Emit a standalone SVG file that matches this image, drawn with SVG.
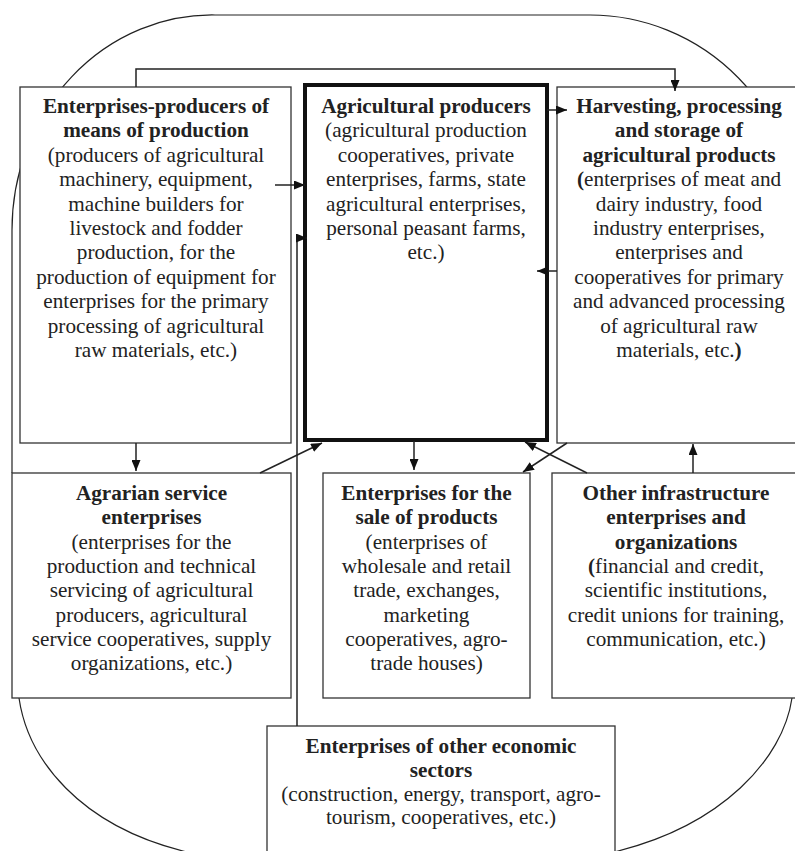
<svg xmlns="http://www.w3.org/2000/svg" width="795" height="851" viewBox="0 0 795 851">
<defs>
<style>
.box{fill:#fff;stroke:#333;stroke-width:1.3}
.main{fill:#fff;stroke:#111;stroke-width:4}
.outer{fill:none;stroke:#222;stroke-width:1.2}
.con{fill:none;stroke:#222;stroke-width:1.5}
</style>
<marker id="ah" markerUnits="userSpaceOnUse" markerWidth="11" markerHeight="9" refX="11" refY="4.5" orient="auto">
<path d="M0,0 L11,4.5 L0,9 z" fill="#111"/>
</marker>
</defs>
<rect width="795" height="851" fill="#fff"/>
<g id="outer">
<path class="outer" d="M12,473 V230 A200 215 0 0 1 215,15 H590 A210 215 0 0 1 800,230"/>
<path class="outer" d="M19,698 C28,760 80,825 183,851 L200,856"/>
<path class="outer" d="M792,698 C783,760 721,825 618,851 L600,856"/>
</g>
<g font-family="Liberation Serif, Times New Roman, serif" font-size="21.2" fill="#222" text-anchor="middle">
<g id="n-means">
<rect class="box" x="20" y="87" width="271" height="356"/>
<text x="156" y="113"><tspan font-weight="bold">Enterprises-producers of</tspan><tspan font-weight="bold" x="156" dy="24.4">means of production</tspan><tspan x="156" dy="24.4">(producers of agricultural</tspan><tspan x="156" dy="24.4">machinery, equipment,</tspan><tspan x="156" dy="24.4">machine builders for</tspan><tspan x="156" dy="24.4">livestock and fodder</tspan><tspan x="156" dy="24.4">production, for the</tspan><tspan x="156" dy="24.4">production of equipment for</tspan><tspan x="156" dy="24.4">enterprises for the primary</tspan><tspan x="156" dy="24.4">processing of agricultural</tspan><tspan x="156" dy="24.4">raw materials, etc.)</tspan></text>
</g>
<g id="n-agri">
<rect class="main" x="305" y="85" width="242" height="355"/>
<text x="426" y="113"><tspan font-weight="bold">Agricultural producers</tspan><tspan x="426" dy="24.4">(agricultural production</tspan><tspan x="426" dy="24.4">cooperatives, private</tspan><tspan x="426" dy="24.4">enterprises, farms, state</tspan><tspan x="426" dy="24.4">agricultural enterprises,</tspan><tspan x="426" dy="24.4">personal peasant farms,</tspan><tspan x="426" dy="24.4">etc.)</tspan></text>
</g>
<g id="n-harvest">
<rect class="box" x="557" y="87" width="245" height="356"/>
<text x="679" y="113"><tspan font-weight="bold">Harvesting, processing</tspan><tspan font-weight="bold" x="679" dy="24.4">and storage of</tspan><tspan font-weight="bold" x="679" dy="24.4">agricultural products</tspan><tspan x="679" dy="24.4"><tspan font-weight="bold">(</tspan>enterprises of meat and</tspan><tspan x="679" dy="24.4">dairy industry, food</tspan><tspan x="679" dy="24.4">industry enterprises,</tspan><tspan x="679" dy="24.4">enterprises and</tspan><tspan x="679" dy="24.4">cooperatives for primary</tspan><tspan x="679" dy="24.4">and advanced processing</tspan><tspan x="679" dy="24.4">of agricultural raw</tspan><tspan x="679" dy="24.4">materials, etc.<tspan font-weight="bold">)</tspan></tspan></text>
</g>
<g id="n-agrarian">
<rect class="box" x="12" y="473" width="279" height="225"/>
<text x="151.5" y="500"><tspan font-weight="bold">Agrarian service</tspan><tspan font-weight="bold" x="151.5" dy="24.3">enterprises</tspan><tspan x="151.5" dy="24.3">(enterprises for the</tspan><tspan x="151.5" dy="24.3">production and technical</tspan><tspan x="151.5" dy="24.3">servicing of agricultural</tspan><tspan x="151.5" dy="24.3">producers, agricultural</tspan><tspan x="151.5" dy="24.3">service cooperatives, supply</tspan><tspan x="151.5" dy="24.3">organizations, etc.)</tspan></text>
</g>
<g id="n-sale">
<rect class="box" x="323" y="473" width="207" height="225"/>
<text x="426.5" y="500"><tspan font-weight="bold">Enterprises for the</tspan><tspan font-weight="bold" x="426.5" dy="24.3">sale of products</tspan><tspan x="426.5" dy="24.3">(enterprises of</tspan><tspan x="426.5" dy="24.3">wholesale and retail</tspan><tspan x="426.5" dy="24.3">trade, exchanges,</tspan><tspan x="426.5" dy="24.3">marketing</tspan><tspan x="426.5" dy="24.3">cooperatives, agro-</tspan><tspan x="426.5" dy="24.3">trade houses)</tspan></text>
</g>
<g id="n-infra">
<rect class="box" x="552" y="473" width="250" height="225"/>
<text x="676" y="500"><tspan font-weight="bold">Other infrastructure</tspan><tspan font-weight="bold" x="676" dy="24.3">enterprises and</tspan><tspan font-weight="bold" x="676" dy="24.3">organizations</tspan><tspan x="676" dy="24.3"><tspan font-weight="bold">(</tspan>financial and credit,</tspan><tspan x="676" dy="24.3">scientific institutions,</tspan><tspan x="676" dy="24.3">credit unions for training,</tspan><tspan x="676" dy="24.3">communication, etc.)</tspan></text>
</g>
<g id="n-other">
<rect class="box" x="267" y="726" width="348" height="140"/>
<text x="441" y="753"><tspan font-weight="bold">Enterprises of other economic</tspan><tspan font-weight="bold" x="441" dy="23.8">sectors</tspan><tspan x="441" dy="23.8">(construction, energy, transport, agro-</tspan><tspan x="441" dy="23.8">tourism, cooperatives, etc.)</tspan></text>
</g>
</g>
<g id="connectors">
<path class="con" d="M136,87 V69 H675 V91" marker-end="url(#ah)"/>
<path class="con" d="M275,185 H305" marker-end="url(#ah)"/>
<path class="con" d="M547,110 H567" marker-end="url(#ah)"/>
<path class="con" d="M557,271 H537" marker-end="url(#ah)"/>
<path class="con" d="M297,726 V238 H307" marker-end="url(#ah)"/>
<path class="con" d="M136,443 V471" marker-end="url(#ah)"/>
<path class="con" d="M260,473 L322,443" marker-end="url(#ah)"/>
<path class="con" d="M414,441 V470" marker-end="url(#ah)"/>
<path class="con" d="M567,443 L523,472" marker-end="url(#ah)"/>
<path class="con" d="M587,473 L525,442" marker-end="url(#ah)"/>
<path class="con" d="M693,473 V444" marker-end="url(#ah)"/>
</g>
</svg>
